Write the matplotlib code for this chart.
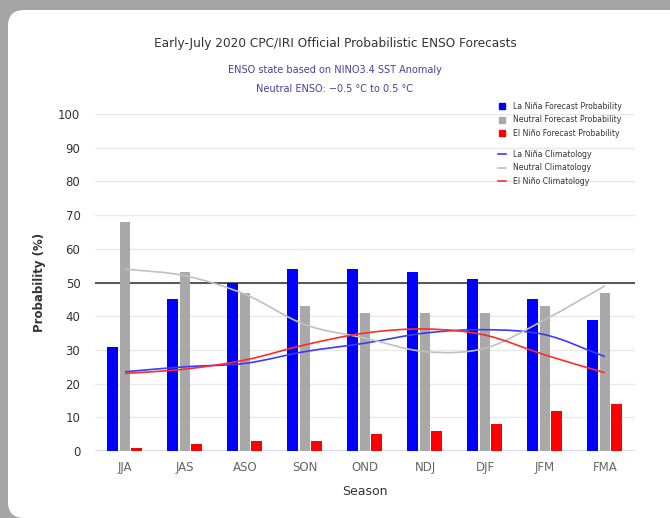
import matplotlib
matplotlib.use("Agg")
import matplotlib.pyplot as plt
from matplotlib.patches import FancyBboxPatch, PathPatch
from matplotlib.path import Path
from matplotlib.lines import Line2D
import numpy as np

seasons = ["JJA", "JAS", "ASO", "SON", "OND", "NDJ", "DJF", "JFM", "FMA"]
la_nina = [31, 45, 50, 54, 54, 53, 51, 45, 39]
neutral = [68, 53, 47, 43, 41, 41, 41, 43, 47]
el_nino = [1, 2, 3, 3, 5, 6, 8, 12, 14]
la_nina_clim = [23.5, 25, 26, 29.5, 32, 35, 36, 34.5, 28]
neutral_clim = [54, 52, 46.5, 37.5, 33.5, 29.5, 30.5, 39, 49]
el_nino_clim = [23, 24.3, 27, 31.5, 35, 36.2, 34.4, 28.5, 23.2]
yticks = [0, 10, 20, 30, 40, 50, 60, 70, 80, 90, 100]

W, H = 670, 518
fig = plt.figure(figsize=(W / 100, H / 100), dpi=100, facecolor="#a5a5a5")
panel = FancyBboxPatch((8 / W, 0.0), 1.2, 1 - 10 / H,
                       boxstyle="round,pad=0,rounding_size=0.024",
                       transform=fig.transFigure, facecolor="white",
                       edgecolor="none", zorder=-10, mutation_aspect=W / H)
fig.patches.append(panel)

ax = fig.add_axes([95 / W, (H - 451) / H, 540 / W, (451 - 114) / H])
ax.set_facecolor("none")
ax.set_zorder(5)
x = np.arange(len(seasons))
bw = 0.17
ax.bar(x - 0.21, la_nina, bw, color="#0000ff", zorder=3)
ax.bar(x, neutral, bw, color="#a9a9a9", zorder=3)
ax.bar(x + 0.19, el_nino, bw, color="#ff0000", zorder=3)


def spline(ax, xs, ys, color):
    xs = np.asarray(xs, float)
    ys = np.asarray(ys, float)
    n = len(xs)
    verts = [(xs[0], ys[0])]
    codes = [Path.MOVETO]
    for i in range(n - 1):
        i0 = max(i - 1, 0)
        i3 = min(i + 2, n - 1)
        t1 = ((xs[i + 1] - xs[i0]) / (i + 1 - i0), (ys[i + 1] - ys[i0]) / (i + 1 - i0))
        t2 = ((xs[i3] - xs[i]) / (i3 - i), (ys[i3] - ys[i]) / (i3 - i))
        c1 = (xs[i] + t1[0] / 3, ys[i] + t1[1] / 3)
        c2 = (xs[i + 1] - t2[0] / 3, ys[i + 1] - t2[1] / 3)
        verts += [c1, c2, (xs[i + 1], ys[i + 1])]
        codes += [Path.CURVE4] * 3
    ax.add_patch(PathPatch(Path(verts, codes), facecolor="none", edgecolor=color, lw=1.2, zorder=4))


spline(ax, x, la_nina_clim, "#3a3aff")
spline(ax, x, neutral_clim, "#c0c0c0")
spline(ax, x, el_nino_clim, "#ff2a2a")

ax.set_xlim(-0.5, len(seasons) - 0.5)
ax.set_ylim(0, 100)
ax.set_yticks(yticks)
ax.set_xticks(x)
ax.set_xticklabels(seasons)
for s in ax.spines.values():
    s.set_visible(False)
ax.axhline(0, color="#ccd6eb", lw=1.2, zorder=2)
ax.axhline(50, color="#555555", lw=1.4, zorder=2)
ax.grid(axis="y", color="#e9e9e9", lw=1, zorder=0)
ax.tick_params(length=0, labelsize=8.5, labelcolor="#333333")
ax.tick_params(axis="y", pad=10.5)
ax.tick_params(axis="x", pad=7, labelcolor="#666666")

ax.set_ylabel("Probability (%)", fontsize=8.5, fontweight="bold", color="#333333", labelpad=9)
ax.set_xlabel("Season", fontsize=9, color="#333333", labelpad=8)

fig.text(0.5, 1 - 44 / H, "Early-July 2020 CPC/IRI Official Probabilistic ENSO Forecasts",
         ha="center", va="center", fontsize=8.7, color="#333333")
fig.text(0.5, 1 - 70 / H, "ENSO state based on NINO3.4 SST Anomaly",
         ha="center", va="center", fontsize=7, color="#4b3fa0")
fig.text(0.5, 1 - 89 / H, "Neutral ENSO: \u22120.5 \u00b0C to 0.5 \u00b0C",
         ha="center", va="center", fontsize=7, color="#4b3fa0")

bar_handles = [Line2D([], [], ls="", marker="s", ms=5, color=c) for c in ["#0000ff", "#a9a9a9", "#ff0000"]]
bar_labels = ["La Niña Forecast Probability", "Neutral Forecast Probability", "El Niño Forecast Probability"]
line_handles = [Line2D([], [], color=c, lw=1.2) for c in ["#3a3aff", "#c0c0c0", "#ff2a2a"]]
line_labels = ["La Niña Climatology", "Neutral Climatology", "El Niño Climatology"]

kw = dict(loc="upper left", frameon=False, fontsize=5.6, labelcolor="#333333", handlelength=1.0,
          handletextpad=0.9, labelspacing=0.55, borderaxespad=0, borderpad=0)
leg1 = fig.legend(bar_handles, bar_labels, bbox_to_anchor=(498 / W, 1 - 102 / H), **kw)
leg2 = fig.legend(line_handles, line_labels, bbox_to_anchor=(498 / W, 1 - 150 / H), **kw)

fig.savefig("out.png", dpi=100, facecolor=fig.get_facecolor())
